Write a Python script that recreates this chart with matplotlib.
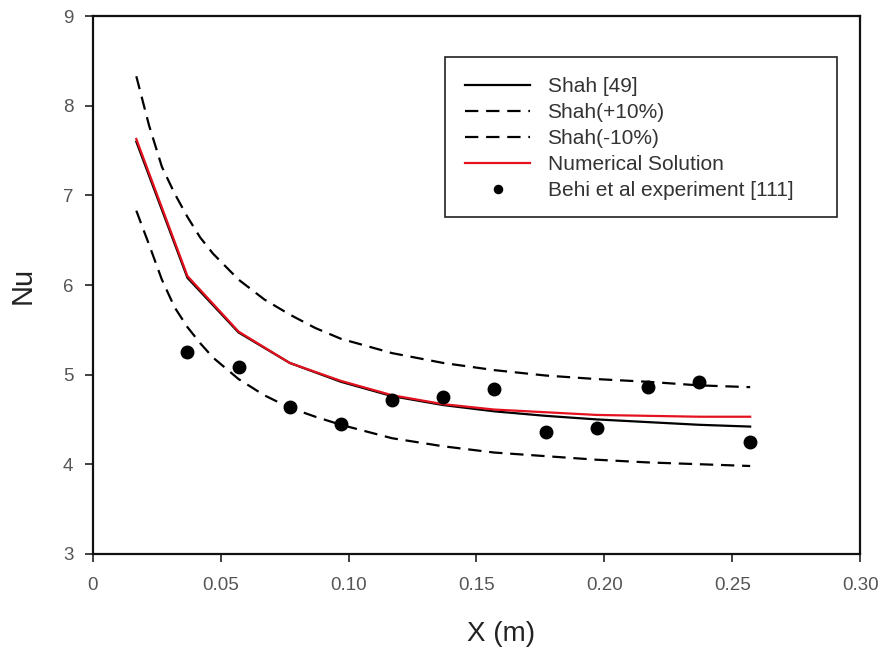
import matplotlib
matplotlib.use("Agg")
import matplotlib.pyplot as plt
from matplotlib.patches import Rectangle

plt.rcParams['font.family'] = ['Liberation Sans', 'DejaVu Sans']

# Axial position (m) of the correlation / simulation nodes
x_pos = [0.017, 0.037, 0.057, 0.077, 0.097, 0.117, 0.137,
         0.157, 0.177, 0.197, 0.217, 0.237, 0.257]
shah = [7.60, 6.08, 5.47, 5.13, 4.92, 4.76, 4.66,
        4.59, 4.54, 4.50, 4.47, 4.44, 4.42]
numerical = [7.63, 6.10, 5.48, 5.13, 4.93, 4.77, 4.67,
             4.61, 4.58, 4.55, 4.54, 4.53, 4.53]

# Shah +/-10 % bands, sampled more finely near the entrance
x_band = [0.017, 0.022, 0.027, 0.032, 0.037, 0.042, 0.047, 0.057,
          0.067, 0.077, 0.087, 0.097, 0.117, 0.137, 0.157, 0.177,
          0.197, 0.217, 0.237, 0.257]
shah_plus = [8.33, 7.78, 7.32, 7.02, 6.76, 6.53, 6.35, 6.06,
             5.84, 5.67, 5.52, 5.40, 5.24, 5.13, 5.05, 4.99,
             4.95, 4.92, 4.88, 4.86]
shah_minus = [6.83, 6.45, 6.06, 5.75, 5.53, 5.35, 5.19, 4.95,
              4.77, 4.63, 4.53, 4.44, 4.29, 4.20, 4.13, 4.09,
              4.05, 4.02, 4.00, 3.98]

# Experimental measurements
x_exp = [0.037, 0.057, 0.077, 0.097, 0.117, 0.137,
         0.157, 0.177, 0.197, 0.217, 0.237, 0.257]
nu_exp = [5.25, 5.08, 4.64, 4.45, 4.72, 4.75,
          4.84, 4.36, 4.40, 4.86, 4.92, 4.25]

x_ticks = [0, 0.05, 0.10, 0.15, 0.20, 0.25, 0.30]
x_tick_labels = ['0', '0.05', '0.10', '0.15', '0.20', '0.25', '0.30']
y_ticks = [3, 4, 5, 6, 7, 8, 9]

fig = plt.figure(figsize=(8.84, 6.5), dpi=100)
ax = fig.add_axes([0.105, 0.148, 0.868, 0.827])

dash = (0, (6, 3.5))
ax.plot(x_pos, shah, color='black', lw=1.6, label='Shah [49]')
ax.plot(x_band, shah_plus, color='black', lw=1.6, ls=dash, label='Shah(+10%)')
ax.plot(x_band, shah_minus, color='black', lw=1.6, ls=dash, label='Shah(-10%)')
ax.plot(x_pos, numerical, color='#e3121e', lw=1.6, label='Numerical Solution')
ax.plot(x_exp, nu_exp, ls='none', marker='o', ms=9, color='black',
        label='Behi et al experiment [111]')

ax.set_xlim(0, 0.30)
ax.set_ylim(3, 9)
ax.set_xticks(x_ticks)
ax.set_xticklabels(x_tick_labels)
ax.set_yticks(y_ticks)

for s in ax.spines.values():
    s.set_linewidth(1.6)
    s.set_color('#111111')
ax.tick_params(direction='out', length=6, width=1.3, labelsize=13.5,
               labelcolor='#555555', color='#333333', pad=8)
ax.tick_params(axis='x', pad=11)

ax.set_xlabel('X (m)', fontsize=20, color='#222222')
ax.set_ylabel('Nu', fontsize=21, color='#222222')
ax.xaxis.set_label_coords(0.532, -0.125)
ax.yaxis.set_label_coords(-0.073, 0.5)

# Legend box drawn separately so it can be wider than its entries
box_x0, box_x1 = 0.459, 0.970
box_y0, box_y1 = 0.626, 0.924
ax.add_patch(Rectangle((box_x0, box_y0), box_x1 - box_x0, box_y1 - box_y0,
                       transform=ax.transAxes, fill=True, facecolor='white',
                       edgecolor='#222222', lw=1.2, zorder=4))
leg = ax.legend(loc='upper left', bbox_to_anchor=(box_x0, box_y1),
                borderaxespad=0, fontsize=15, frameon=False,
                handlelength=3.1, handletextpad=0.85,
                labelspacing=0.33, borderpad=0.97, markerscale=0.65)
leg.set_zorder(5)
for t in leg.get_texts():
    t.set_color('#333333')

fig.savefig('out.png', dpi=100)
